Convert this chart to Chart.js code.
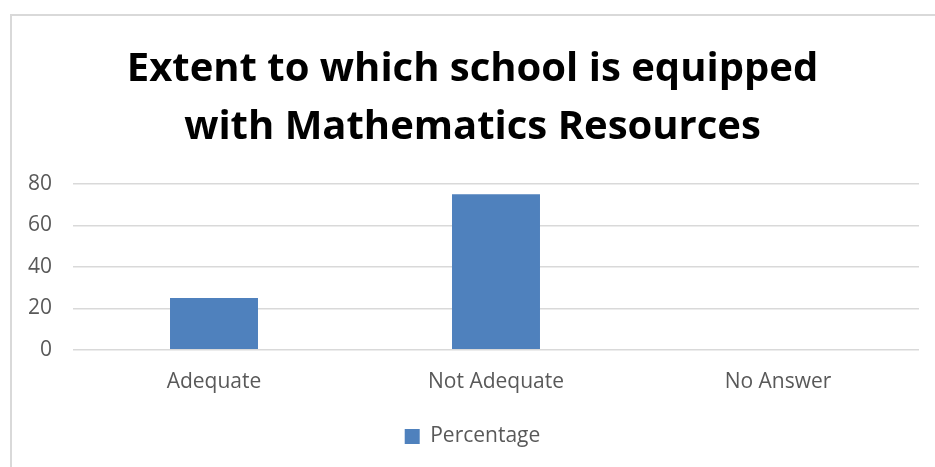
<!DOCTYPE html>
<html>
<head>
<meta charset="utf-8">
<script src="https://cdn.jsdelivr.net/npm/chart.js@4/dist/chart.umd.min.js"></script>
<style>
  html, body { margin: 0; padding: 0; background: #fff; }
  #frame {
    position: absolute; left: 10px; top: 14px;
    width: 940px; height: 470px;
    border: 2px solid #d9d9d9; box-sizing: border-box;
  }
  #wrap { position: absolute; left: 0; top: 0; width: 935px; height: 467px; }
</style>
</head>
<body>
<div id="frame"></div>
<div id="wrap"><canvas id="chart"></canvas></div>
<script>
// ---------------------------------------------------------------------------
// Data
// ---------------------------------------------------------------------------
const categories  = ['Adequate', 'Not Adequate', 'No Answer'];
const percentages = [25, 75, 0];
const seriesName  = 'Percentage';
const titleLines  = ['Extent to which school is equipped', 'with Mathematics Resources'];

const BAR_BLUE = '#4f81bd';
const TXT_GREY = '#595959';
const GRID     = '#d9d9d9';
const FONT     = '"Open Sans", Calibri, sans-serif';

new Chart(document.getElementById('chart'), {
  type: 'bar',
  data: {
    labels: categories,
    datasets: [{
      label: seriesName,
      data: percentages,
      backgroundColor: BAR_BLUE,
      borderWidth: 0,
      categoryPercentage: 1,
      barPercentage: 0.312,
    }],
  },
  options: {
    responsive: true,
    maintainAspectRatio: false,
    animation: false,
    layout: { padding: { left: 26, right: 16, top: 0, bottom: 10 } },
    plugins: {
      title: {
        display: true,
        text: titleLines,
        color: '#000',
        font: { family: FONT, size: 40, weight: 'bold', lineHeight: 1.45 },
        padding: { top: 41, bottom: 27 },
      },
      legend: {
        position: 'bottom',
        labels: {
          color: TXT_GREY,
          font: { family: FONT, size: 21 },
          boxWidth: 15,
          boxHeight: 15,
          padding: 11,
        },
      },
      tooltip: { enabled: false },
    },
    scales: {
      x: {
        grid: { display: false, drawTicks: false },
        border: { display: false },
        ticks: { color: TXT_GREY, font: { family: FONT, size: 21 }, padding: 20 },
      },
      y: {
        min: 0,
        max: 80,
        ticks: { stepSize: 20, color: TXT_GREY, font: { family: FONT, size: 21 }, padding: 21 },
        grid: { color: GRID, lineWidth: 1.5, drawTicks: false },
        border: { display: false },
        afterFit: (s) => { s.width = 47; },
      },
    },
  },
});
</script>
</body>
</html>
